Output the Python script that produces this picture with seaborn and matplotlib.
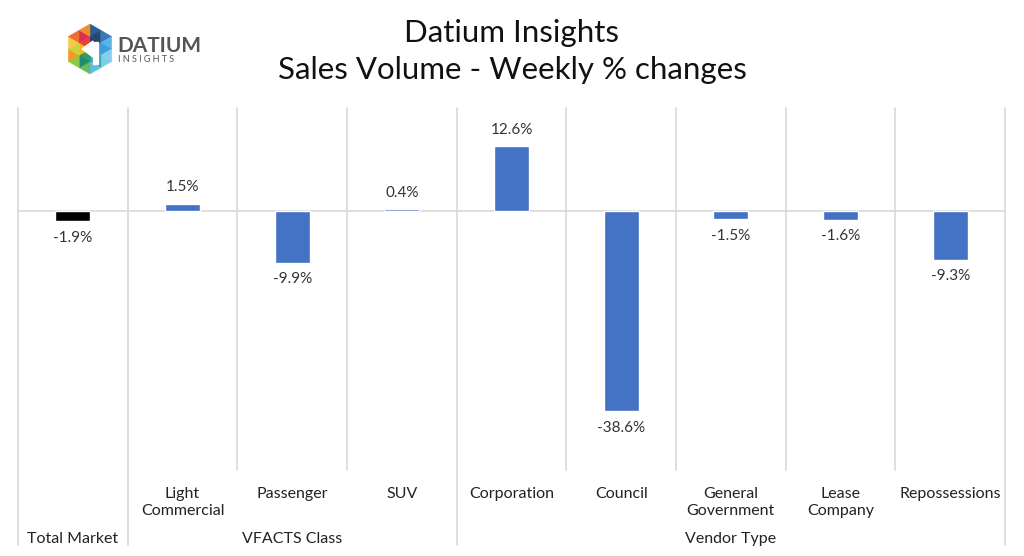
import numpy as np
import pandas as pd
import seaborn as sns
import matplotlib.pyplot as plt
from matplotlib.patches import Polygon
from matplotlib import transforms

categories = ["Total Market", "Light\nCommercial", "Passenger", "SUV", "Corporation",
              "Council", "General\nGovernment", "Lease\nCompany", "Repossessions"]
tick_labels = [""] + categories[1:]
changes = [-1.9, 1.5, -9.9, 0.4, 12.6, -38.6, -1.5, -1.6, -9.3]
groups = ["Total Market", "VFACTS Class", "Vendor Type"]
group_spans = [(0, 1), (1, 4), (4, 9)]
bar_colors = ["#000000"] + ["#4472C4"] * 8

sns.set_theme(style="white")
plt.rcParams["font.family"] = ["Lato", "DejaVu Sans"]

df = pd.DataFrame({"category": categories, "change": changes})

fig = plt.figure(figsize=(10.24, 5.56), dpi=100)
ax = fig.add_axes([18 / 1024, 1 - 470 / 556, 987 / 1024, 362 / 556])

sns.barplot(data=df, x="category", y="change", hue="category", palette=bar_colors,
            width=0.32, legend=False, ax=ax, saturation=1)

ax.set_ylim(-50, 20)
ax.set_xlim(-0.5, len(categories) - 0.5)
for s in ax.spines.values():
    s.set_visible(False)
ax.set_yticks([])
ax.set_xlabel("")
ax.set_ylabel("")
ax.axhline(0, color="#d9d9d9", lw=1.2, zorder=0)

# separators: short ones inside groups, long ones on group borders
borders = {b for span in group_spans for b in span}
trans = transforms.blended_transform_factory(ax.transData, ax.transAxes)
for i in range(len(categories) + 1):
    x = i - 0.5
    y0 = -0.208 if i in borders else 0.0
    ax.plot([x, x], [y0, 1.0], color="#d9d9d9", lw=1.2, transform=trans,
            clip_on=False, zorder=0)

ax.set_xticks(range(len(categories)))
ax.set_xticklabels(tick_labels, fontsize=11.5, color="#222222", linespacing=1.3,
                   va="top")
ax.tick_params(axis="x", length=0, pad=12)

for (a, b), g in zip(group_spans, groups):
    ax.text((a + b - 1) / 2, -0.19, g, transform=trans, ha="center", va="center",
            fontsize=11.5, color="#222222")

for i, v in enumerate(changes):
    off = 7 if v >= 0 else -7
    ax.annotate(f"{v:.1f}%", (i, v), xytext=(0, off), textcoords="offset points",
                ha="center", va="bottom" if v >= 0 else "top", fontsize=11,
                color="#333333")

fig.text(0.5, 1 - 33 / 556, "Datium Insights", ha="center", va="center",
         fontsize=22.5, color="#111111")
fig.text(0.5, 1 - 70 / 556, "Sales Volume - Weekly % changes", ha="center",
         va="center", fontsize=22.5, color="#111111")

# logo
lax = fig.add_axes([60 / 1024, 1 - 80 / 556, 150 / 1024, 60 / 556])
lax.set_xlim(60, 210)
lax.set_ylim(80, 20)
lax.axis("off")
cx, cy, r = 90, 49, 25
sector_colors = [
    ["#1f3f6e", "#2a5f93", "#24476f", "#3579b5"],
    ["#2b8fd0", "#5bb3e6", "#3aa0dc", "#86cdef"],
    ["#3aa0dc", "#7ccbe9", "#2aa5a0", "#5cc0e0"],
    ["#2f9e5b", "#66bb5d", "#1e8a6e", "#8cc84b"],
    ["#f5b81c", "#f39a1f", "#c9d23a", "#f7c948"],
    ["#e8413c", "#f06b2f", "#d9304c", "#f28c28"],
]
angles = np.deg2rad(np.arange(-90, 270, 60))
verts = [(cx + r * np.cos(a), cy + r * np.sin(a)) for a in angles]
for k in range(6):
    p0 = np.array([cx, cy])
    p1 = np.array(verts[k])
    p2 = np.array(verts[(k + 1) % 6])
    m01, m12, m02 = (p0 + p1) / 2, (p1 + p2) / 2, (p0 + p2) / 2
    tris = [[p0, m01, m02], [m01, p1, m12], [m01, m12, m02], [m02, m12, p2]]
    for t, c in zip(tris, sector_colors[k]):
        lax.add_patch(Polygon(t, closed=True, fc=c, ec=c, lw=0.3))
lax.add_patch(Polygon([[cx - 8, cy], [cx + 3, cy - 8], [cx + 3, cy + 8]],
                      closed=True, fc="white", ec="white"))
lax.add_patch(Polygon([[cx + 3, cy - 7], [cx + 8, cy - 7], [cx + 8, cy + 15], [cx + 3, cy + 15]],
                      closed=True, fc="white", ec="white"))
lax.text(117, 46, "DATIUM", fontsize=15, color="#555555", va="center", ha="left",
         fontweight="bold")
lax.text(118, 60, "I N S I G H T S", fontsize=6.5, color="#555555", va="center",
         ha="left")

fig.savefig("out.png", dpi=100)
